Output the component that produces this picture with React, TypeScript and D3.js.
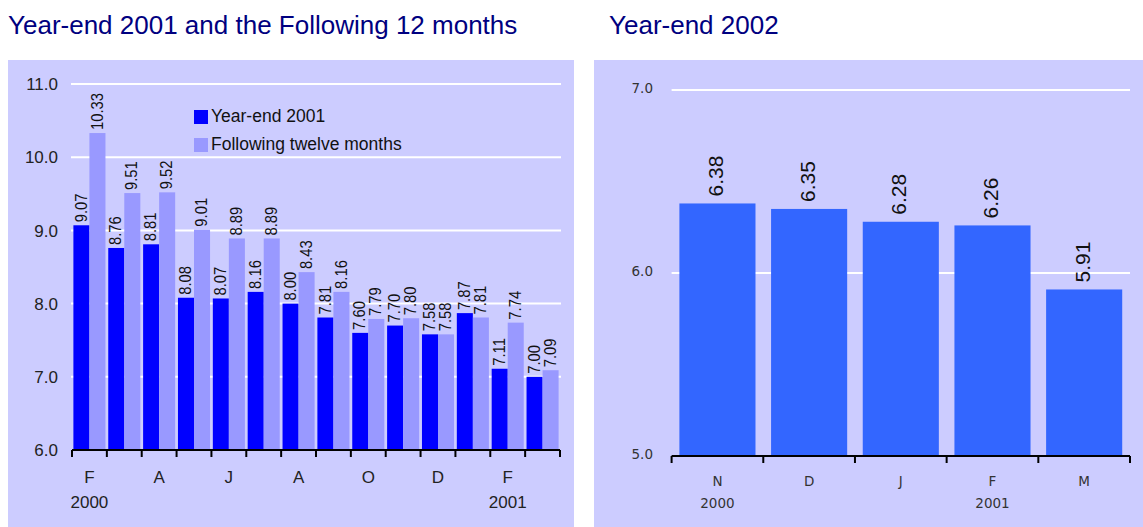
import React from "react";
import * as d3 from "d3";

const leftMonths = ["F", "M", "A", "M", "J", "J", "A", "S", "O", "N", "D", "J", "F", "M"];
const leftYears = ["2000", "", "", "", "", "", "", "", "", "", "", "", "2001", ""];
const yearEnd2001 = [9.07, 8.76, 8.81, 8.08, 8.07, 8.16, 8.0, 7.81, 7.6, 7.7, 7.58, 7.87, 7.11, 7.0];
const following12 = [10.33, 9.51, 9.52, 9.01, 8.89, 8.89, 8.43, 8.16, 7.79, 7.8, 7.58, 7.81, 7.74, 7.09];
const leftSeriesNames = ["Year-end 2001", "Following twelve months"];
const leftTicks = [6, 7, 8, 9, 10, 11];

const rightMonths = ["N", "D", "J", "F", "M"];
const rightYears = ["2000", "", "", "2001", ""];
const yearEnd2002 = [6.38, 6.35, 6.28, 6.26, 5.91];
const rightTicks = [5, 6, 7];

const BG = "#CCCCFF";
const DARK = "#0000FF";
const LIGHT = "#9999FF";
const RBAR = "#3366FF";
const ARIAL = "'Liberation Sans', Arial, sans-serif";
const DEJAVU = "'DejaVu Sans', Verdana, sans-serif";

function LeftChart() {
  const x0 = 72, x1 = 560;
  const y = d3.scaleLinear().domain([6, 11]).range([450, 84]);
  const idx = leftMonths.map((_, i) => String(i));
  const xb = d3.scaleBand().domain(idx).range([x0, x1]).paddingInner(0.08).paddingOuter(0.04);
  const step = (x1 - x0) / leftMonths.length;
  const sub = d3.scaleBand().domain(["a", "b"]).range([0, xb.bandwidth()]);
  const series = [yearEnd2001, following12];
  const colors = [DARK, LIGHT];
  const fs = 17;
  const sx = 0.87;
  const labelLen = (s: string) => {
    let w = 0;
    for (const c of s) w += c === "." ? 0.278 : 0.556;
    return w * fs * sx;
  };
  return (
    <g>
      <rect x={8} y={60} width={566} height={467} fill={BG} />
      <text x={8} y={34} fontFamily={ARIAL} fontSize={26} fill="#000080">
        Year-end 2001 and the Following 12 months
      </text>
      {leftTicks.slice(1).map((t) => (
        <line key={t} x1={71} x2={561} y1={y(t)} y2={y(t)} stroke="#fff" strokeWidth={2} />
      ))}
      {leftTicks.map((t) => (
        <text key={t} x={58} y={y(t)} dy="0.36em" textAnchor="end" fontFamily={ARIAL} fontSize={17} fill="#222">
          {t.toFixed(1)}
        </text>
      ))}
      {series.map((vals, s) =>
        vals.map((v, i) => {
          const bx = (xb(String(i)) as number) + (sub(s === 0 ? "a" : "b") as number);
          const bw = sub.bandwidth();
          return <rect key={`${s}-${i}`} x={bx} y={y(v)} width={bw} height={y(6) - y(v)} fill={colors[s]} />;
        })
      )}
      {series.map((vals, s) =>
        vals.map((v, i) => {
          const bx = (xb(String(i)) as number) + (sub(s === 0 ? "a" : "b") as number);
          const cx = bx + sub.bandwidth() / 2 - 1;
          const lab = v.toFixed(2);
          const len = labelLen(lab);
          const by = Math.max(y(v) - 3, y(11) + 1 + len);
          return (
            <text
              key={`l${s}-${i}`}
              transform={`translate(${cx},${by}) rotate(-90) scale(${sx},1)`}
              dy="0.36em"
              fontFamily={ARIAL}
              fontSize={fs}
              fill="#111"
            >
              {lab}
            </text>
          );
        })
      )}
      <line x1={x0} x2={x1} y1={450} y2={450} stroke="#000" strokeWidth={2} />
      {d3.range(leftMonths.length + 1).map((i) => (
        <line key={i} x1={x0 + i * step} x2={x0 + i * step} y1={450} y2={457} stroke="#000" strokeWidth={2} />
      ))}
      {leftMonths.map((m, i) =>
        i % 2 === 0 ? (
          <text key={i} x={x0 + (i + 0.5) * step} y={483} textAnchor="middle" fontFamily={ARIAL} fontSize={17} fill="#222">
            {m}
          </text>
        ) : null
      )}
      {leftYears.map((yy, i) =>
        yy ? (
          <text key={i} x={x0 + (i + 0.5) * step} y={508} textAnchor="middle" fontFamily={ARIAL} fontSize={17} fill="#222">
            {yy}
          </text>
        ) : null
      )}
      {leftSeriesNames.map((n, i) => (
        <g key={n}>
          <rect x={194} y={110 + i * 28} width={14} height={14} fill={colors[i]} />
          <text x={211} y={122 + i * 28} fontFamily={ARIAL} fontSize={17.5} fill="#111">
            {n}
          </text>
        </g>
      ))}
    </g>
  );
}

function RightChart() {
  const x0 = 671.6, x1 = 1130;
  const y = d3.scaleLinear().domain([5, 7]).range([456, 90]);
  const idx = rightMonths.map((_, i) => String(i));
  const xb = d3.scaleBand().domain(idx).range([x0, x1]).paddingInner(0.17).paddingOuter(0.085);
  const step = (x1 - x0) / rightMonths.length;
  return (
    <g>
      <rect x={594} y={60} width={549} height={467} fill={BG} />
      <text x={609} y={34} fontFamily={ARIAL} fontSize={26} fill="#000080">
        Year-end 2002
      </text>
      {rightTicks.slice(1).map((t) => (
        <line key={t} x1={x0} x2={x1} y1={y(t)} y2={y(t)} stroke="#fff" strokeWidth={2} />
      ))}
      {rightTicks.map((t) => (
        <text key={t} x={653} y={y(t) - 2} dy="0.36em" textAnchor="end" fontFamily={DEJAVU} fontSize={13.5} fill="#333">
          {t.toFixed(1)}
        </text>
      ))}
      {yearEnd2002.map((v, i) => (
        <rect key={i} x={xb(String(i)) as number} y={y(v)} width={xb.bandwidth()} height={y(5) - y(v)} fill={RBAR} />
      ))}
      {yearEnd2002.map((v, i) => {
        const cx = (xb(String(i)) as number) + xb.bandwidth() / 2 - 2;
        return (
          <text
            key={`l${i}`}
            transform={`translate(${cx},${y(v) - 7}) rotate(-90)`}
            dy="0.36em"
            fontFamily={ARIAL}
            fontSize={21}
            fill="#111"
          >
            {v.toFixed(2)}
          </text>
        );
      })}
      <line x1={x0} x2={x1} y1={456} y2={456} stroke="#000" strokeWidth={2} />
      {d3.range(rightMonths.length + 1).map((i) => (
        <line key={i} x1={x0 + i * step} x2={x0 + i * step} y1={456} y2={463} stroke="#000" strokeWidth={2} />
      ))}
      {rightMonths.map((m, i) => (
        <text key={i} x={x0 + (i + 0.5) * step} y={486} textAnchor="middle" fontFamily={DEJAVU} fontSize={13.5} fill="#333">
          {m}
        </text>
      ))}
      {rightYears.map((yy, i) =>
        yy ? (
          <text key={i} x={x0 + (i + 0.5) * step} y={508} textAnchor="middle" fontFamily={DEJAVU} fontSize={13.5} fill="#333">
            {yy}
          </text>
        ) : null
      )}
    </g>
  );
}

export default function App() {
  return (
    <svg width={1143} height={527} style={{ position: "absolute", left: 0, top: 0, background: "#fff" }}>
      <LeftChart />
      <RightChart />
    </svg>
  );
}
